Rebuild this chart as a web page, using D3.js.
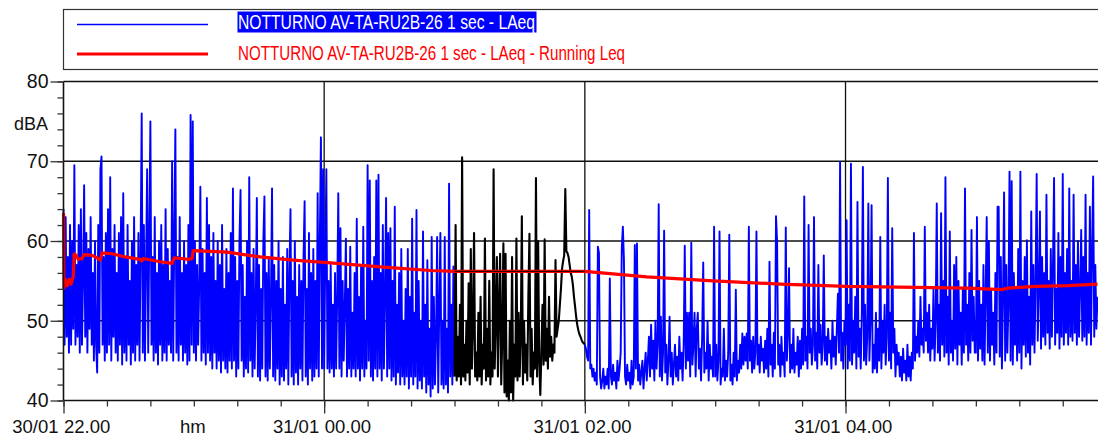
<!DOCTYPE html>
<html>
<head>
<meta charset="utf-8">
<script src="https://cdn.jsdelivr.net/npm/d3@7"></script>
<style>
  body { margin: 0; background: #fff; }
  text { font-family: "Liberation Sans", Arial, sans-serif; }
</style>
</head>
<body>
<div id="chart"></div>
<script>
// LAeq 1 s values resampled every 30 s, one array per hour (dBA)
const laeq22 = [64,47,63,48,58,46,62,47,60,49, 69.5,47,57,48,62,46,64,47,55,67, 48,61,46,59,49,63,47,56,45,60,
  47,43.5,62,46,69,70.6,47,58,45,61, 46,64,47,68,45,59,48,62,46,56, 45,61,47,63,44.5,66,46,58,45,62,
  47,55,44.5,60,46,63,45,57,47,61, 45,59,76,46,62,45,57,69,46,61, 75,47,58,45,63,46,56,44.5,60,47,
  62,45,57,46,64,45,59,47,55,46, 70,45,61,74,46,58,45,63,47,56, 45,60,46,57,44.5,62,45,75.8,47,75];
const laeq23 = [46,60,45,57,47,55,66.8,45,59,46, 56,44.5,65.4,46,62,45,58,44,61,46, 55,44,60,45,57,43.5,62,45,54,44,
  59,43.5,56,45,61,44,66.6,45,58,43, 55,44,60,66.4,45,57,43,53,44,60, 43.5,68,45,56,43,59,44,52,65.4,43,
  57,42.5,54,44,60,65.6,43,56,42.5,58, 44,53,66.6,43,57,42.5,55,44,60,42, 54,43,58,42.5,52,44,59,42,56,64,
  43,55,42,60,43.5,53,42,57,44,55, 42.5,58,65,43,54,42,61,44,56,42.5, 59,43,55,44,66,43,60,73,44,69];
const laeq00 = [44,58,69,44,55,43.5,57,44,52,43, 56,44,53,66,44,61.6,43,55,45,52, 60.3,43,54,44,59.3,43,51,44,56,43,
  62.8,44,53,42.5,57,44,61.8,43,50,44, 69.5,45,67.6,43,55,42.5,58,44,67.6,43, 68.3,44,56,42.5,62,44,53,65.4,43,61,
  44,61.6,42.5,55,43,64.3,42,52,43.5,56, 42,59,43,50,42,54,43,59,41.5,53, 43,62.8,42,51,43,63.9,41.5,55,42.5,50,
  41.5,61.2,43,52,41,57.6,42,49,40.5,60.5, 41.5,53,42,48,60.5,41,52,61,42,50, 41.5,60.5,42,49,41,67.2,43,52,42,56.8];
const laeq01 = [43,62,42.5,48,43,52,42,70.5,43,47, 42.5,50,43.5,54.7,42,59,44,49,61,43, 46,42.5,51,43,53,42,47,44,60.3,42.5,
  49,43,55,42,46,43,69,44,50,58, 43,52,58.4,42,48,59.7,41,58.4,40.5,45, 40,50,41,58,40,47,43,60.3,42.5,51,
  43,48,63.1,42,50,43.5,47,42.5,53,60.9, 43,49,42,46,44,67.9,43,60,45,40.7, 46,52,44.5,60.2,45,49,44,53,45.5,48,
  45,47,46,57.6,48,49,50,52,54,56.5, 57.5,58.2,66.5,58.7,58.5,58,57,56,55.5,54.5, 53,51.8,50.5,49.5,48.8,48.3,48,47.6,47.3,47.2];
const laeq02 = [47,46.5,45.5,45,63.9,44,44.5,43,44,42.5, 43.5,42,59.3,58.5,43,41.5,42.5,44,41.5,43, 42,44,41.5,55.3,43,42,44.5,42.5,43.5,41.5,
  45,42.5,44,46,59,61.8,57.6,43,42,44.5, 42.5,43.5,41.5,45,42,43,59.5,44,59.7,42.5, 44.5,42,43.5,45,41.5,44,46,42.5,45,48,
  43,49.5,44,47.5,42.5,50,44,47,64.6,43, 50.5,42.5,46,61.3,43.5,47,42,45,50.5,43, 46,42,44.5,47,43,45.5,42.5,48,44,46,
  42.5,47,59.4,44,51,45,51,43,59.8,44.5, 47,51,43,49,51,44,46.5,42.5,48,57.3, 43.5,46,44,50,42.5,47,44,45.5,43,61.8];
const laeq03 = [43,47,42.5,45,61.2,42,44,43,49,42.5, 45,43,46,60.8,42.5,44.5,42,46,43,53.9, 42.5,45,43.5,47,44,48.4,44.5,48,45,48.4,
  44,61.8,45,47.5,43.5,48,44,46,61.2,44.5, 47,43.5,48,45,46.5,43.5,47.5,44,49,43, 57.4,44.5,47,43,48.5,44,63.1,60,44.5,47,
  43,48,44.5,46,43,61.7,45,48.5,56.6,43.5, 47,44,49,43.5,46,44.5,48,43,47.5,44, 49,44.5,65.6,45,48,44,62,46,49,44.5,
  47,63,45,48.5,44,57,46,49.5,44.5,47, 58.2,45,48,44.5,49,46,47.5,44,50,45.5, 48,44.5,49,53.4,46,69.9,45,48.5,44,50];
const laeq04 = [47,62.6,44,52,45,69.7,44.5,50,46,53, 44,64.9,45.5,49,44,51,69.3,45,52,44.5, 48,64.7,45,50,64.5,43.5,47,44,51,43.5,
  49,45,60.5,44,50,46,52,44.5,48,67.9, 45,51,44,61.6,46,49,43,47,44.5,46, 43,45.5,42.5,46.5,43.5,45,42.5,47,43,45.5,
  42.5,46,44,61,45,48,46,50,45.5,53, 47,49,46,61.8,47.5,51,46,52,45,49, 46.5,54,45,50,64.7,46,52,45,63.5,47,
  55,45.5,68,46,53,44.5,61.2,46,50,45, 57,46.5,58,44.5,55,47,51,44.5,54,46, 66.6,47,52,45,56,46,61.4,47.5,53,46];
const laeq05 = [46,63,45,55,46.5,52,45,57,44.5,53, 63,46,60,45,54,47,51,44.5,56,46, 64.3,64.3,45.5,58,44,53,66.1,45,57,46,
  52,68.7,45,67.5,44.5,56,47,54,45,59, 46,68.7,44,55,47,58,45.5,60.1,46,53, 44.5,63.7,47,57,46,55,68.4,47.5,54,63.7,
  46.5,58,48,56,47,65.8,48.5,55,46.5,59, 48,57,67.9,47,54,48.5,61,46.5,58,48, 68.4,47,56,48.5,59,47,66.6,48,55,47.5,
  65.8,48.5,57,47,60,48,54,61.4,47.5,58, 48,65.8,47,56,48.5,64.3,47,59,68.1,48, 57,49,53];

// Running Leq: minutes after 22:00 and level (dBA)
const runMinutes = [0,0.2,0.8,1.7,2.6,3.5,4.5,4.9,5.8,6.8,8.6,9.5,13.2,16,16.9,17.8,22.4,28.4,35.3,36,36.7,44.5,50,51,57.4,59.2,59.7,
  75.3,90.5,105.7,121.4,148.9,168.8,180,240,268.5,299,329.9,360.5,416.4,432,434.9,447.3,462.5,476];
const runLeq = [63.5,54.1,55.2,54.4,55.2,54.6,55.6,58.4,58.2,57.7,57.8,58.3,58.2,57.8,57.6,58.5,58.4,58.0,57.7,57.5,57.8,57.4,57.2,57.9,57.7,57.8,58.8,
  58.6,58.0,57.6,57.3,56.7,56.3,56.2,56.2,55.5,55.0,54.6,54.3,54.1,53.9,54.1,54.3,54.4,54.6];

const yMajor = [40, 50, 60, 70, 80];
const legendLabels = ["NOTTURNO AV-TA-RU2B-26 1 sec - LAeq", "NOTTURNO AV-TA-RU2B-26 1 sec - LAeq - Running Leq"];

const width = 1098, height = 441;
const plot = { left: 63.5, right: 1098.5, top: 81.5, bottom: 400.5 };

const t0 = new Date(2000, 0, 30, 22, 0, 0);
const tEnd = new Date(2000, 0, 31, 5, 56, 0);
const step = 30000;
const markStart = new Date(2000, 0, 31, 1, 0, 0);
const markEnd = new Date(2000, 0, 31, 2, 0, 0);

const series = [laeq22, laeq23, laeq00, laeq01, laeq02, laeq03, laeq04, laeq05]
  .flat()
  .map((v, k) => ({ t: new Date(+t0 + k * step), v }));
const running = runMinutes.map((m, i) => ({ t: new Date(+t0 + m * 60000), v: runLeq[i] }));

const svg = d3.select("#chart").append("svg")
  .attr("width", width)
  .attr("height", height);

const xScale = d3.scaleTime().domain([t0, tEnd]).range([plot.left, 1097.5]);
const yScale = d3.scaleLinear().domain([40, 80]).range([plot.bottom, plot.top]);

// legend
const legend = svg.append("g");
legend.append("rect")
  .attr("x", 63.5).attr("y", 9.5).attr("width", 1040).attr("height", 60)
  .attr("fill", "none").attr("stroke", "#333").attr("stroke-width", 1.2);
legend.append("line")
  .attr("x1", 77).attr("x2", 208).attr("y1", 24.5).attr("y2", 24.5)
  .attr("stroke", "#0000ff").attr("stroke-width", 1.5);
legend.append("line")
  .attr("x1", 77).attr("x2", 208).attr("y1", 54).attr("y2", 54)
  .attr("stroke", "#ff0000").attr("stroke-width", 3);
legend.append("rect")
  .attr("x", 237.5).attr("y", 11.5).attr("width", 299).attr("height", 21)
  .attr("fill", "#0000ff");
legend.append("text")
  .attr("x", 238).attr("y", 29)
  .attr("font-size", 21).attr("fill", "#fff")
  .attr("textLength", 297).attr("lengthAdjust", "spacingAndGlyphs")
  .text(legendLabels[0]);
legend.append("text")
  .attr("x", 238).attr("y", 59.5)
  .attr("font-size", 21).attr("fill", "#ff0000")
  .attr("textLength", 387).attr("lengthAdjust", "spacingAndGlyphs")
  .text(legendLabels[1]);

// grid
const grid = svg.append("g").attr("stroke", "#111").attr("stroke-width", 1.3);
grid.selectAll(".hgrid")
  .data([50, 60, 70])
  .enter().append("line")
  .attr("x1", plot.left).attr("x2", plot.right)
  .attr("y1", d => yScale(d)).attr("y2", d => yScale(d));
grid.selectAll(".vgrid")
  .data([1, 2, 3].map(k => d3.timeHour.offset(t0, 2 * k)))
  .enter().append("line")
  .attr("x1", d => xScale(d)).attr("x2", d => xScale(d))
  .attr("y1", plot.top).attr("y2", plot.bottom);

// series
const line = d3.line().x(d => xScale(d.t)).y(d => yScale(d.v));

const before = series.filter(d => d.t <= markStart);
const marked = series.filter(d => d.t >= markStart && d.t <= markEnd);
const after = series.filter(d => d.t >= markEnd);

svg.append("g")
  .selectAll("path")
  .data([before, after])
  .enter().append("path")
  .attr("d", line)
  .attr("fill", "none")
  .attr("stroke", "#0000ff")
  .attr("stroke-width", 1.9)
  .attr("stroke-linejoin", "round");

svg.append("path")
  .datum(marked)
  .attr("d", line)
  .attr("fill", "none")
  .attr("stroke", "#000")
  .attr("stroke-width", 2.1)
  .attr("stroke-linejoin", "round");

svg.append("path")
  .datum(running)
  .attr("d", line)
  .attr("fill", "none")
  .attr("stroke", "#ff0000")
  .attr("stroke-width", 3.2)
  .attr("stroke-linejoin", "round");

svg.append("path")
  .datum(running.filter(d => d.t >= markStart && d.t <= markEnd))
  .attr("d", line)
  .attr("fill", "none")
  .attr("stroke", "#000")
  .attr("stroke-width", 1);

// frame
svg.append("g")
  .attr("stroke", "#111").attr("stroke-width", 1.6).attr("fill", "none")
  .call(g => g.append("line").attr("x1", plot.left).attr("x2", plot.right).attr("y1", plot.top).attr("y2", plot.top))
  .call(g => g.append("line").attr("x1", plot.left).attr("x2", plot.right).attr("y1", plot.bottom).attr("y2", plot.bottom))
  .call(g => g.append("line").attr("x1", plot.left).attr("x2", plot.left).attr("y1", plot.top).attr("y2", plot.bottom));

// y axis
svg.append("g")
  .attr("transform", `translate(${plot.left},0)`)
  .call(d3.axisLeft(yScale).tickValues(d3.range(40, 81, 2)).tickSize(6).tickFormat(""))
  .call(g => g.select(".domain").remove())
  .call(g => g.selectAll("line").attr("stroke", "#333").attr("stroke-width", 1.3));

svg.append("g")
  .attr("transform", `translate(${plot.left},0)`)
  .call(d3.axisLeft(yScale).tickValues(yMajor).tickSize(13).tickPadding(2))
  .call(g => g.select(".domain").remove())
  .call(g => g.selectAll("line").attr("stroke", "#333").attr("stroke-width", 1.3))
  .call(g => g.selectAll("text")
    .attr("font-family", "'Liberation Sans', Arial, sans-serif")
    .attr("font-size", 19.5).attr("fill", "#111"));

svg.append("text")
  .attr("x", 48).attr("y", 130)
  .attr("text-anchor", "end")
  .attr("font-size", 18).attr("fill", "#111")
  .text("dBA");

// x axis
svg.append("g")
  .attr("transform", `translate(0,${plot.bottom})`)
  .call(d3.axisBottom(xScale).tickValues(d3.timeMinute.every(20).range(t0, tEnd)).tickSize(6).tickFormat(""))
  .call(g => g.select(".domain").remove())
  .call(g => g.selectAll("line").attr("stroke", "#333").attr("stroke-width", 1.3));

const majorTimes = [0, 1, 2, 3].map(k => d3.timeHour.offset(t0, 2 * k));
svg.append("g")
  .attr("transform", `translate(0,${plot.bottom})`)
  .call(d3.axisBottom(xScale).tickValues(majorTimes).tickSize(13).tickFormat(""))
  .call(g => g.select(".domain").remove())
  .call(g => g.selectAll("line").attr("stroke", "#333").attr("stroke-width", 1.3));

const fmtDate = d3.timeFormat("%d/%m");
const fmtTime = d3.timeFormat("%H.%M");
const xLabels = svg.append("g").attr("font-size", 18.5).attr("fill", "#111");
xLabels.selectAll(".d")
  .data(majorTimes)
  .enter().append("text")
  .attr("x", d => xScale(d) - 5).attr("y", 433)
  .attr("text-anchor", "end")
  .text(fmtDate);
xLabels.selectAll(".t")
  .data(majorTimes)
  .enter().append("text")
  .attr("x", d => xScale(d) + 0.5).attr("y", 433)
  .text(fmtTime);

svg.append("text")
  .attr("x", 180).attr("y", 433)
  .attr("font-size", 18.5).attr("fill", "#111")
  .text("hm");
</script>
</body>
</html>
